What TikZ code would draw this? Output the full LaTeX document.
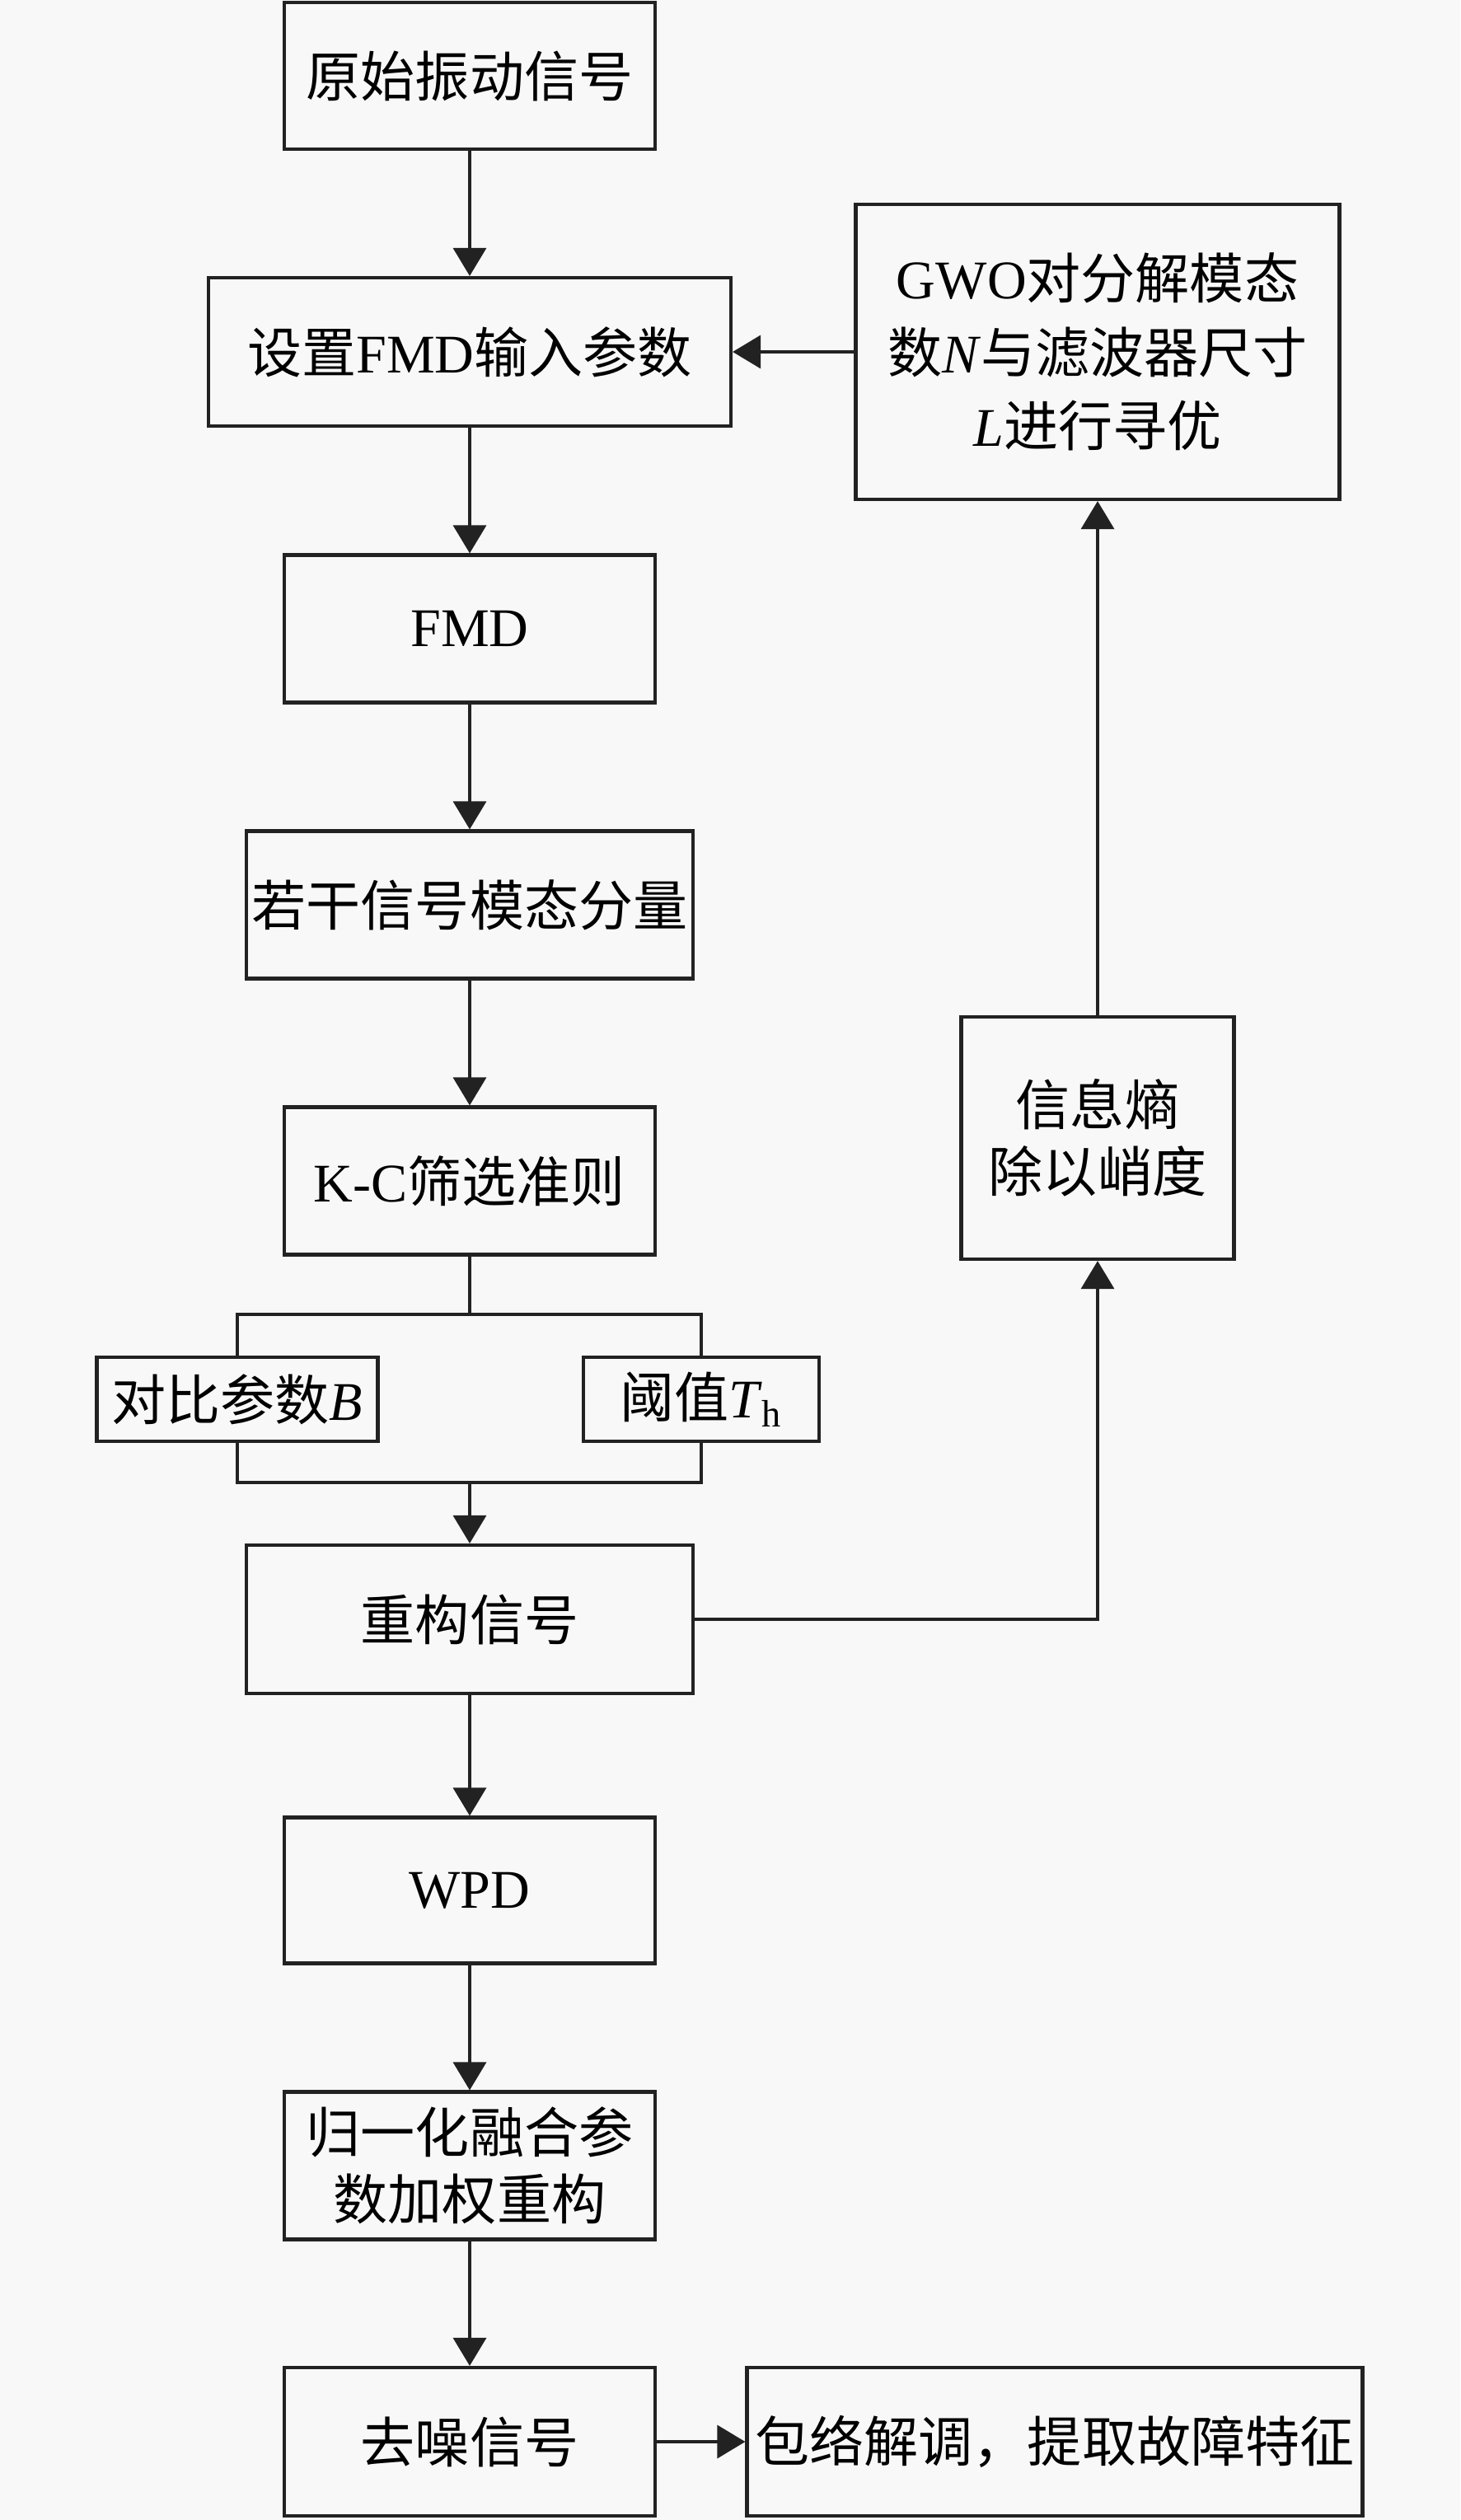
\documentclass[tikz,border=0pt]{standalone}
\usepackage{fontspec}
\setmainfont{Liberation Serif}
\newfontfamily\cjk{Noto Sans CJK SC}
\usetikzlibrary{arrows.meta}
\newcommand{\zh}[1]{{\cjk #1}}
\definecolor{bgcol}{HTML}{F8F8F8}
\definecolor{linecol}{HTML}{222222}

\begin{document}
\begin{tikzpicture}[y=-1cm,
  every node/.style={font=\fontsize{18.8}{23}\selectfont},
  box/.style={draw=linecol, line width=1.2pt, fill=bgcol, align=center, inner sep=1pt},
  link/.style={draw=linecol, line width=1pt},
  arr/.style={link, -{Triangle[length=3.4mm,width=4mm]}}]
  % sfondo
  \fill[bgcol] (0,0) rectangle (17.72,30.58);
  \useasboundingbox (0,0) rectangle (17.72,30.58);

  % colonna principale
  \node[box, minimum width=4.50cm, minimum height=1.78cm] (orig) at (5.70,0.92) {\zh{原始振动信号}};
  \node[box, minimum width=6.34cm, minimum height=1.80cm] (setp) at (5.70,4.27) {\zh{设置}FMD\zh{输入参数}};
  \node[box, minimum width=4.50cm, minimum height=1.79cm] (fmd) at (5.70,7.63) {FMD};
  \node[box, minimum width=5.42cm, minimum height=1.79cm] (modes) at (5.70,10.98) {\zh{若干信号模态分量}};
  \node[box, minimum width=4.50cm, minimum height=1.79cm] (kc) at (5.70,14.33) {K-C\zh{筛选准则}};
  \node[box, minimum width=3.41cm, minimum height=1.02cm] (cmpB) at (2.88,16.98) {\zh{对比参数}\textit{B}};
  \node[box, minimum width=2.86cm, minimum height=1.02cm] (thr) at (8.51,16.98) {\zh{阈值}\textit{T}\textsubscript{h}};
  \node[box, minimum width=5.42cm, minimum height=1.80cm] (recon) at (5.70,19.65) {\zh{重构信号}};
  \node[box, minimum width=4.50cm, minimum height=1.77cm] (wpd) at (5.70,22.94) {WPD};
  \node[box, minimum width=4.50cm, minimum height=1.79cm] (norm) at (5.70,26.28) {\zh{归一化融合参}\\\zh{数加权重构}};
  \node[box, minimum width=4.50cm, minimum height=1.80cm] (denoise) at (5.70,29.63) {\zh{去噪信号}};
  \node[box, minimum width=7.47cm, minimum height=1.80cm] (env) at (12.80,29.63) {\zh{包络解调，提取故障特征}};

  % ramo di ottimizzazione
  \node[box, minimum width=5.87cm, minimum height=3.58cm, font=\fontsize{18.8}{25.5}\selectfont] (gwo) at (13.32,4.27)
    {GWO\zh{对分解模态}\\\zh{数}\textit{N}\zh{与滤波器尺寸}\\\textit{L}\zh{进行寻优}};
  \node[box, minimum width=3.31cm, minimum height=2.94cm] (entropy) at (13.32,13.81) {\zh{信息熵}\\\zh{除以峭度}};

  % frecce principali
  \draw[arr] (orig) -- (setp);
  \draw[arr] (setp) -- (fmd);
  \draw[arr] (fmd) -- (modes);
  \draw[arr] (modes) -- (kc);
  \draw[arr] (recon) -- (wpd);
  \draw[arr] (wpd) -- (norm);
  \draw[arr] (norm) -- (denoise);
  \draw[arr] (denoise) -- (env);

  % parentesi B / T_h
  \coordinate (brT) at (5.70,15.95);
  \coordinate (brB) at (5.70,17.99);
  \draw[link] (kc.south) -- (brT);
  \draw[link] (cmpB.north) |- (brT) -| (thr.north);
  \draw[link] (cmpB.south) |- (brB) -| (thr.south);
  \draw[arr] (brB) -- (recon.north);

  % retroazione
  \draw[arr] (recon.east) -| (entropy.south);
  \draw[arr] (entropy) -- (gwo);
  \draw[arr] (gwo) -- (setp);
\end{tikzpicture}
\end{document}
